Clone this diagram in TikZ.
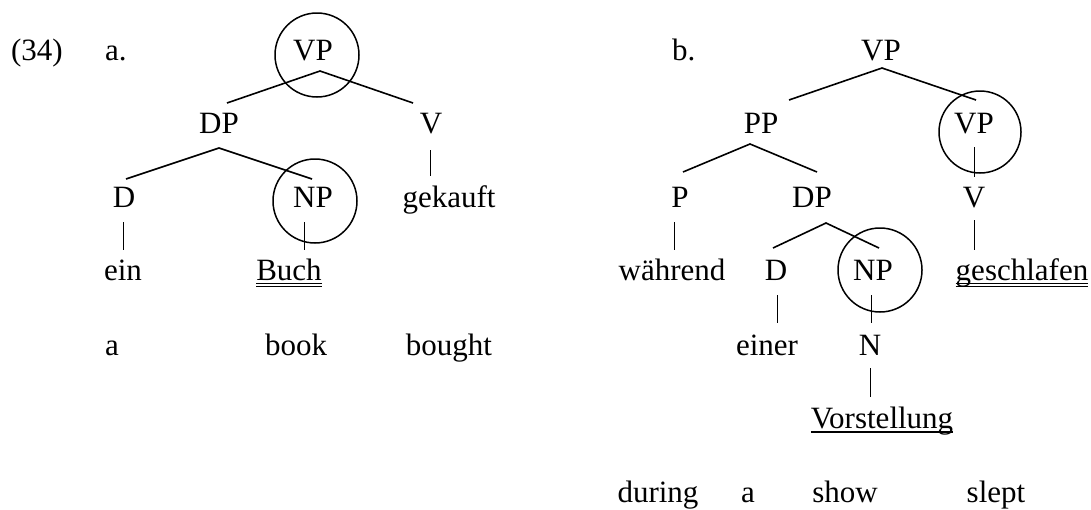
\documentclass[tikz,border=0pt]{standalone}
\usepackage{fontspec}
\setmainfont{Liberation Serif}
\usetikzlibrary{calc}
\tikzset{
  lbl/.style={inner sep=0pt, outer sep=0pt, anchor=base, font=\fontsize{31}{37}\selectfont},
  lblw/.style={lbl, anchor=base west},
  branch/.style={line width=1.6pt},
  vline/.style={line width=0.9pt},
  ring/.style={line width=1.5pt},
  uline/.style={line width=0.8pt},
  uthick/.style={line width=1.5pt}
}
\begin{document}
\begin{tikzpicture}[x=1pt,y=-1pt]
\useasboundingbox[fill=white] (0,0) rectangle (1091,509);
% ---------- (34) a. ----------
\node[lbl]  (num)  at (37,60)  {(34)};
\node[lblw] (la)   at (105,60) {a.};
\node[lbl]  (vpa)  at (313,60) {VP};
\node[lbl]  (dpa)  at (219,133) {DP};
\node[lbl]  (va)   at (431,133) {V};
\node[lbl]  (da)   at (124,207) {D};
\node[lbl]  (npa)  at (313,207) {NP};
\node[lbl]  (gek)  at (449,207) {gekauft};
\node[lbl]  (ein)  at (123,280) {ein};
\node[lbl]  (buch) at (289,280) {Buch};
\node[lbl]  (ga)   at (112,355) {a};
\node[lbl]  (gbook) at (296,355) {book};
\node[lbl]  (gbought) at (449,355) {bought};

\draw[ring] ($(vpa.base)+(4,-5)$) circle[radius=42pt];
\draw[ring] ($(npa.base)+(2,-6)$) circle[radius=42pt];

\draw[branch] ($(dpa.base)+(8,-30)$) -- ($(vpa.base)+(7,11)$) -- ($(va.base)+(-18,-30)$);
\draw[branch] ($(da.base)+(2,-28)$) -- ($(dpa.base)+(0,15)$) -- ($(npa.base)+(-1,-28)$);
\draw[vline] ($(va.base)+(-1,17)$) -- ($(gek.base)+(-19,-31)$);
\draw[vline] ($(da.base)+(-1,15)$) -- ($(ein.base)+(0,-30)$);
\draw[vline] ($(npa.base)+(-9,15)$) -- ($(buch.base)+(15,-30)$);
\draw[uline] ($(buch.base west)+(0,3)$) -- ($(buch.base east)+(0,3)$);
\draw[uline] ($(buch.base west)+(0,6.5)$) -- ($(buch.base east)+(0,6.5)$);

% ---------- b. ----------
\node[lblw] (lb)   at (672,60) {b.};
\node[lbl]  (vpb)  at (881,60) {VP};
\node[lbl]  (ppb)  at (761,133) {PP};
\node[lbl]  (vp2)  at (974,133) {VP};
\node[lbl]  (pb)   at (680,207) {P};
\node[lbl]  (dpb)  at (812,207) {DP};
\node[lbl]  (vb)   at (974,207) {V};
\node[lbl]  (wahr) at (672,280) {während};
\node[lbl]  (db)   at (776,280) {D};
\node[lbl]  (npb)  at (873,280) {NP};
\node[lbl]  (gesch) at (1022,280) {geschlafen};
\node[lbl]  (einer) at (767,355) {einer};
\node[lbl]  (nb)   at (870,355) {N};
\node[lbl]  (vorst) at (882,428) {Vorstellung};
\node[lbl]  (gduring) at (658,502) {during};
\node[lbl]  (ga2)  at (748,502) {a};
\node[lbl]  (gshow) at (845,502) {show};
\node[lbl]  (gslept) at (996,502) {slept};

\draw[ring] ($(vp2.base)+(6,-1)$) circle[radius=41pt];
\draw[ring] ($(npb.base)+(7,-10)$) circle[radius=42pt];

\draw[branch] ($(ppb.base)+(28,-33)$) -- ($(vpb.base)+(1,8)$) -- ($(vp2.base)+(2,-33)$);
\draw[branch] ($(pb.base)+(3,-35)$) -- ($(ppb.base)+(-11,11)$) -- ($(dpb.base)+(5,-35)$);
\draw[branch] ($(db.base)+(-3,-32)$) -- ($(dpb.base)+(14,16)$) -- ($(npb.base)+(6,-32)$);
\draw[vline] ($(vp2.base)+(0,14)$) -- ($(vb.base)+(0,-30)$);
\draw[vline] ($(pb.base)+(-6,15)$) -- ($(wahr.base)+(2,-30)$);
\draw[vline] ($(vb.base)+(0,13)$) -- ($(gesch.base)+(-48,-30)$);
\draw[vline] ($(db.base)+(1,15)$) -- ($(einer.base)+(10,-32)$);
\draw[vline] ($(npb.base)+(-2,15)$) -- ($(nb.base)+(1,-32)$);
\draw[vline] ($(nb.base)+(0,13)$) -- ($(vorst.base)+(-12,-31)$);
\draw[uline] ($(gesch.base west)+(0,3)$) -- ($(gesch.base east)+(0,3)$);
\draw[uline] ($(gesch.base west)+(0,6.5)$) -- ($(gesch.base east)+(0,6.5)$);
\draw[uthick] ($(vorst.base west)+(0,4)$) -- ($(vorst.base east)+(0,4)$);
\end{tikzpicture}
\end{document}
